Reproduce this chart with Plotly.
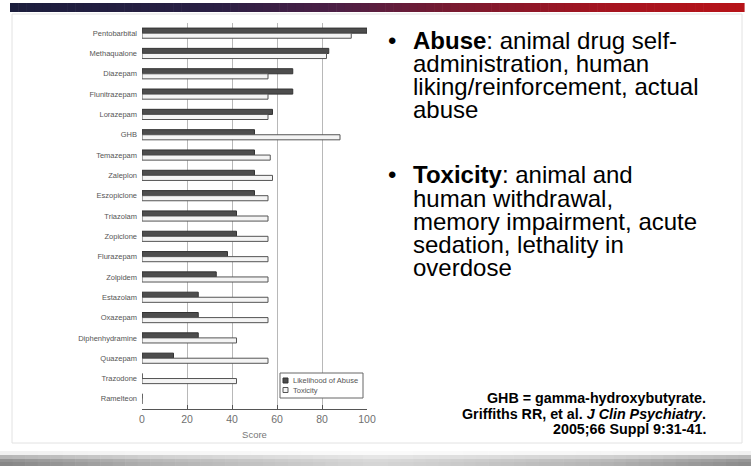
import plotly.graph_objects as go

# Drug comparison: likelihood of abuse vs. toxicity scores
drugs = ["Pentobarbital", "Methaqualone", "Diazepam", "Flunitrazepam", "Lorazepam",
         "GHB", "Temazepam", "Zaleplon", "Eszopiclone", "Triazolam", "Zopiclone",
         "Flurazepam", "Zolpidem", "Estazolam", "Oxazepam", "Diphenhydramine",
         "Quazepam", "Trazodone", "Ramelteon"]
abuse_score = [100, 83, 67, 67, 58, 50, 50, 50, 50, 42, 42, 38, 33, 25, 25, 25, 14, 0, 0]
toxicity_score = [93, 82, 56, 56, 56, 88, 57, 58, 56, 56, 56, 56, 56, 56, 56, 42, 56, 42, 0]
score_ticks = [0, 20, 40, 60, 80, 100]
series_names = ["Likelihood of Abuse", "Toxicity"]
series_fill = ["#4d4d4d", "#f4f4f4"]
series_edge = ["#333333", "#555555"]

W, H = 751, 466
L, R, T, B = 142, 367, 23, 409  # plot area in pixels


def fx(px):
    return (px - L) / (R - L)


def fy(py):
    return (B - py) / (B - T)


def hex2rgb(h):
    h = h.lstrip("#")
    return tuple(int(h[i:i + 2], 16) for i in (0, 2, 4))


def lerp_rgb(stops, t):
    for (t0, c0), (t1, c1) in zip(stops, stops[1:]):
        if t0 <= t <= t1:
            a = (t - t0) / (t1 - t0) if t1 > t0 else 0
            r0, g0, b0 = hex2rgb(c0)
            r1, g1, b1 = hex2rgb(c1)
            return (r0 + (r1 - r0) * a, g0 + (g1 - g0) * a, b0 + (b1 - b0) * a)
    return hex2rgb(stops[-1][1])


def rgb(c):
    return "rgb(%d,%d,%d)" % tuple(int(round(v)) for v in c)


fig = go.Figure()
for name, vals, fill, edge in zip(series_names, [abuse_score, toxicity_score], series_fill, series_edge):
    fig.add_trace(go.Bar(
        y=drugs, x=vals, orientation="h", name=name, showlegend=False,
        marker=dict(color=fill, line=dict(color=edge, width=1)),
    ))

shapes = []
# slide panel outline
shapes.append(dict(type="rect", xref="paper", yref="paper",
                   x0=fx(12), x1=fx(742), y0=fy(14), y1=fy(443),
                   line=dict(color="#e2e2e2", width=1), fillcolor="rgba(0,0,0,0)", layer="below"))

# title band gradient across the top
top_stops = [(0, "#1c1e3d"), (0.28, "#2a1f44"), (0.45, "#4e1f45"), (0.6, "#781a30"),
             (0.8, "#a31420"), (1.0, "#b71318")]
n = 90
x_start, x_end = 10, 744
for i in range(n):
    a0 = x_start + (x_end - x_start) * i / n
    a1 = x_start + (x_end - x_start) * (i + 1) / n + 0.6
    shapes.append(dict(type="rect", xref="paper", yref="paper",
                       x0=fx(a0), x1=fx(a1), y0=fy(12), y1=fy(3),
                       line=dict(width=0), fillcolor=rgb(lerp_rgb(top_stops, (i + 0.5) / n)),
                       layer="below"))

# bottom gray bevel band
bot_stops = [(0, "#858585"), (0.2, "#b0b0b0"), (0.5, "#d6d6d6"), (0.8, "#b4b4b4"), (1.0, "#8a8a8a")]
rows = [(451, 455, 0.88), (455, 459, 0.4), (459, 462, 0.1), (462, 466, 0.0)]
m = 60
for (r0, r1, lift) in rows:
    for i in range(m):
        a0 = W * i / m
        a1 = W * (i + 1) / m + 0.6
        c = lerp_rgb(bot_stops, (i + 0.5) / m)
        c = tuple(v + (255 - v) * lift for v in c)
        shapes.append(dict(type="rect", xref="paper", yref="paper",
                           x0=fx(a0), x1=fx(a1), y0=fy(r1), y1=fy(r0),
                           line=dict(width=0), fillcolor=rgb(c), layer="below"))

annotations = []
FONT = "Liberation Sans, Arial, sans-serif"

# legend box with swatches
shapes.append(dict(type="rect", xref="paper", yref="paper",
                   x0=fx(280), x1=fx(363), y0=fy(398), y1=fy(373),
                   line=dict(color="#666666", width=1), fillcolor="#ffffff", layer="above"))
for k, (name, fill, edge) in enumerate(zip(series_names, series_fill, series_edge)):
    cy = 380.5 + k * 9.5
    shapes.append(dict(type="rect", xref="paper", yref="paper",
                       x0=fx(283), x1=fx(288), y0=fy(cy + 2.5), y1=fy(cy - 2.5),
                       line=dict(color=edge, width=1), fillcolor=fill, layer="above"))
    annotations.append(dict(xref="paper", yref="paper", x=fx(291), y=fy(cy), text=name,
                            showarrow=False, xanchor="left", yanchor="middle",
                            font=dict(family=FONT, size=7.5, color="#555555")))

abuse_lines = ["<b>Abuse</b>: animal drug self-", "administration, human",
               "liking/reinforcement, actual", "abuse"]
tox_lines = ["<b>Toxicity</b>: animal and", "human withdrawal,",
             "memory impairment, acute", "sedation, lethality in", "overdose"]


def add_block(lines, y0, step):
    annotations.append(dict(xref="paper", yref="paper", x=fx(392), y=fy(y0), text="•",
                            showarrow=False, xanchor="center", yanchor="middle",
                            font=dict(family=FONT, size=24, color="#000000")))
    for k, s in enumerate(lines):
        annotations.append(dict(xref="paper", yref="paper", x=fx(411), y=fy(y0 + k * step),
                                text=s, showarrow=False, xanchor="left", yanchor="middle",
                                font=dict(family=FONT, size=24, color="#000000")))


add_block(abuse_lines, 40, 23.2)
add_block(tox_lines, 175, 23.2)

cite_lines = ["<b>GHB = gamma-hydroxybutyrate.</b>",
              "<b>Griffiths RR, et al. <i>J Clin Psychiatry</i>.</b>",
              "<b>2005;66 Suppl 9:31-41.</b>"]
for k, s in enumerate(cite_lines):
    annotations.append(dict(xref="paper", yref="paper", x=fx(708), y=fy(398 + k * 15.5),
                            text=s, showarrow=False, xanchor="right", yanchor="middle",
                            font=dict(family=FONT, size=14.3, color="#000000")))

fig.update_layout(
    width=W, height=H,
    margin=dict(l=L, r=W - R, t=T, b=H - B, pad=0),
    paper_bgcolor="#ffffff", plot_bgcolor="#ffffff",
    barmode="group", bargap=0.5, bargroupgap=0.0,
    font=dict(family=FONT, color="#555555"),
    showlegend=False,
    shapes=shapes,
    annotations=annotations,
)
fig.update_xaxes(
    range=[0, 100], tickvals=score_ticks, ticktext=[str(v) for v in score_ticks],
    showgrid=True, gridcolor="#b8b8b8", gridwidth=1, zeroline=False,
    showline=True, linecolor="#555555", linewidth=1.2,
    ticks="inside", ticklen=4, tickcolor="#555555",
    tickfont=dict(size=10.5, color="#707070"),
    title=dict(text="Score", font=dict(size=9.5, color="#777777"), standoff=7),
)
fig.update_yaxes(
    autorange="reversed", showgrid=False, showline=False,
    ticks="", tickfont=dict(size=7.5, color="#555555"), ticklabelstandoff=4,
)

fig.write_html("out.html")
